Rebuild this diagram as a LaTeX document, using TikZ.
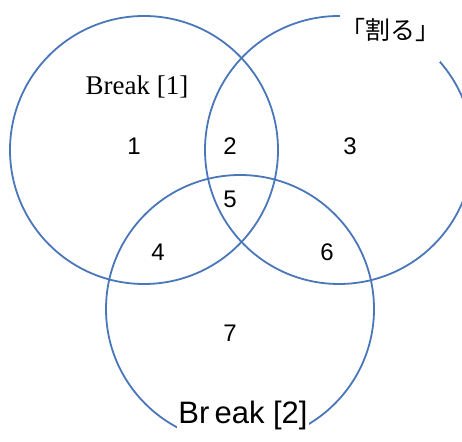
\documentclass[tikz,border=0pt]{standalone}
\usepackage{fontspec}
\setmainfont{Liberation Serif}
\setsansfont{Liberation Sans}
\newfontfamily\jpfont{Noto Sans CJK JP}
\usetikzlibrary{positioning}
\definecolor{VennBlue}{RGB}{74, 118, 186}

\begin{document}
\begin{tikzpicture}[
  x=1pt, y=1pt,
  setcirc/.style={circle, draw=VennBlue, line width=1.8pt, minimum size=268pt, inner sep=0pt},
  region/.style={font=\sffamily\fontsize{24}{24}\selectfont, inner sep=0pt},
  cover/.style={fill=white, inner sep=0pt}
]
  \useasboundingbox (0,0) rectangle (462,441);

  %% the three sets
  \node[setcirc] (brkone) at (144,291) {};
  \node[setcirc] (waru)   at (339,291) {};
  \node[setcirc] (brktwo) at (240,132) {};

  %% set names (white backing hides the arcs behind them)
  \node[font=\fontsize{27}{27}\selectfont, inner sep=0pt] (nameone) at (137,354) {Break [1]};
  \node[cover, minimum width=98pt, minimum height=64pt, font=\jpfont\fontsize{25}{25}\selectfont]
    (namewaru) at (390,411) {「割る」};
  \node[cover, text depth=44pt, inner xsep=1pt, font=\sffamily\fontsize{31}{31}\selectfont,
        anchor=base] (nametwo) at (243,18) {Br\,eak [2]};

  %% region numbers
  \node[region] (r1) at (134,295) {1};
  \node[region] (r2) at (230,295) {2};
  \node[region] (r3) at (350,295) {3};
  \node[region] (r5) at (230,242) {5};
  \node[region] (r4) at (158,189) {4};
  \node[region] (r6) at (327,189) {6};
  \node[region] (r7) at (230,108) {7};
\end{tikzpicture}
\end{document}
